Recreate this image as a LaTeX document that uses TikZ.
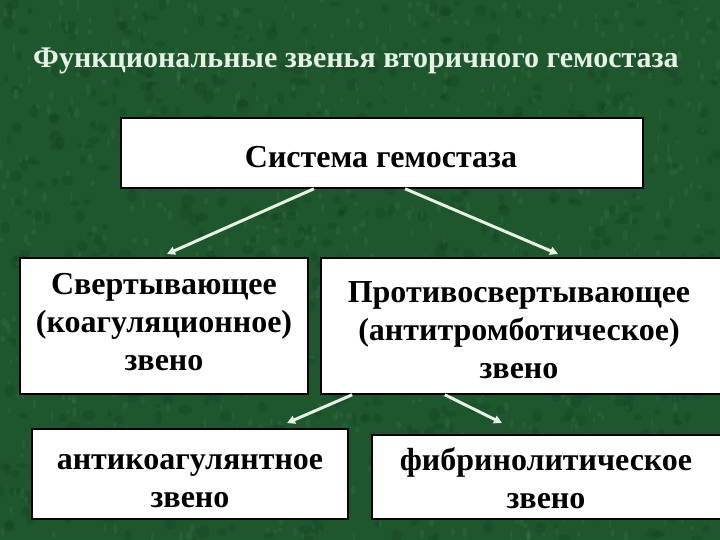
\documentclass[tikz,border=0pt]{standalone}
\usepackage{fontspec}
\setmainfont{Liberation Serif}
\usetikzlibrary{calc,arrows.meta}
\definecolor{bggreen}{RGB}{30,86,46}
\definecolor{mottle}{RGB}{80,150,100}
\definecolor{darkmottle}{RGB}{12,50,24}
\definecolor{palegreen}{RGB}{230,242,230}
\tikzset{
  box/.style={draw=black, line width=1.5pt, fill=white, inner sep=0pt},
  boxtext/.style={align=center, inner sep=0pt, font=\bfseries\fontsize{32}{38}\selectfont},
  link/.style={draw=palegreen, line width=3pt,
    -{Triangle[length=8pt,width=8pt]}}
}
\begin{document}
\begin{tikzpicture}[x=1pt,y=-1pt]
\fill [bggreen] (0,0) rectangle (720,540);
\useasboundingbox (0,0) rectangle (720,540);
\clip (0,0) rectangle (720,540);
% marbled background
\pgfmathsetseed{11}
\foreach \i in {1,...,700}
  \fill [darkmottle, opacity=0.18] (720*rnd,540*rnd) ellipse [x radius=2+5*rnd, y radius=2+5*rnd];
\foreach \i in {1,...,900}
  \fill [mottle, opacity=0.14] (720*rnd,540*rnd) ellipse [x radius=1+2*rnd, y radius=2+4*rnd];
% title
\node (title) [text=palegreen, font=\bfseries\fontsize{30}{36}\selectfont] at (356,61) {Функциональные звенья вторичного гемостаза};
% boxes
\node (sys) [box, minimum width=522pt, minimum height=70pt] at (382,153) {};
\node (coag) [box, minimum width=288pt, minimum height=136pt] at (164,326) {};
\node (anticoag) [box, minimum width=403pt, minimum height=136pt] at (522.5,326) {};
\node (antikoag) [box, minimum width=316pt, minimum height=90pt] at (190,474) {};
\node (fibr) [box, minimum width=352pt, minimum height=84pt] at (548,477) {};
% box texts
\node (sys-t) [boxtext] at (381,157) {Система гемостаза};
\node (coag-t) [boxtext] at (164,322) {Свертывающее\\(коагуляционное)\\звено};
\node (anticoag-t) [boxtext] at (519,330) {Противосвертывающее\\(антитромботическое)\\звено};
\node (antikoag-t) [boxtext] at (190,481) {антикоагулянтное\\звено};
\node (fibr-t) [boxtext] at (546,478) {фибринолитическое\\звено};
% arrow tips
\coordinate (t1) at (167,254);
\coordinate (t2) at (558,254);
\coordinate (t3) at (287,423);
\coordinate (t4) at (502,423);
\draw [link] ($(sys.south west)!0.37!(sys.south east)$) -- (t1);
\draw [link] ($(sys.south west)!0.544!(sys.south east)$) -- (t2);
\draw [link] ($(anticoag.south west)!0.079!(anticoag.south east)$) -- (t3);
\draw [link] ($(anticoag.south west)!0.308!(anticoag.south east)$) -- (t4);
\end{tikzpicture}
\end{document}
